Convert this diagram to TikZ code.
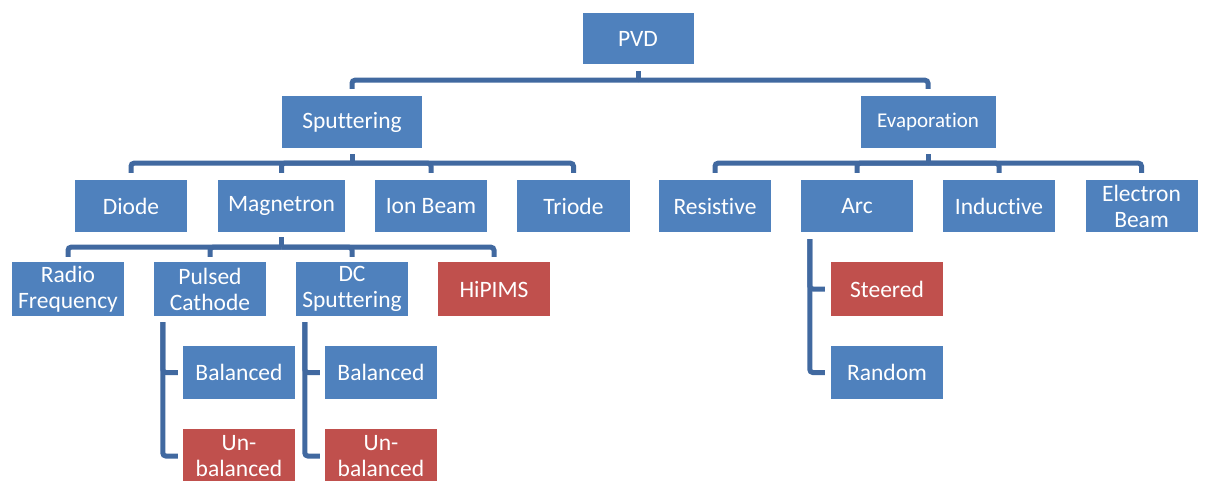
\documentclass[tikz,border=0pt]{standalone}
\usepackage{fontspec}
\setmainfont[Ligatures=NoCommon]{Carlito}
\definecolor{boxblue}{HTML}{4F81BD}
\definecolor{boxred}{HTML}{C0504D}
\definecolor{linkblue}{HTML}{4169A0}
\begin{document}
\begin{tikzpicture}[x=1pt,y=-1pt,
  box/.style={fill=boxblue,text=white,inner sep=0pt,align=center,
    minimum width=112pt,minimum height=53pt,
    font=\fontsize{23.5}{26}\selectfont},
  hot/.style={box,fill=boxred},
  link/.style={draw=linkblue,line width=5pt,rounded corners=3pt}]
\useasboundingbox (0,0) rectangle (1205,480);
\begin{scope}
\clip (0,0) rectangle (1205,480);
% root and first level
\node[box,minimum width=111pt,minimum height=51pt] (pvd) at (638,38.5) {PVD};
\node[box,minimum width=140pt,minimum height=52pt] (spt) at (352,122) {Sputtering};
\node[box,minimum width=135pt,minimum height=52pt,font=\fontsize{21}{24}\selectfont] (evp) at (928,122) {Evaporation};
% sputtering methods
\node[box,minimum height=52pt] (dio) at (131,206) {Diode};
\node[box,minimum width=127pt,minimum height=52pt] (mag) at (281.5,206) {Magnetron};
\node[box,minimum height=52pt] (ion) at (431,206) {Ion Beam};
\node[box,minimum width=113pt,minimum height=52pt] (tri) at (573.5,206) {Triode};
% evaporation methods
\node[box,minimum height=52pt] (res) at (715,206) {Resistive};
\node[box,minimum height=52pt] (arc) at (857,206) {Arc};
\node[box,minimum height=52pt] (ind) at (999,206) {Inductive};
\node[box,minimum height=52pt] (ebm) at (1141.5,206) {Electron\\Beam};
% magnetron variants
\node[box,minimum height=54pt] (rf) at (68,289) {Radio\\Frequency};
\node[box,minimum height=54pt] (pc) at (210,289) {Pulsed\\Cathode};
\node[box,minimum height=54pt] (dc) at (352,289) {DC\\Sputtering};
\node[hot,minimum height=54pt] (hip) at (494,289) {HiPIMS};
% field configurations
\node[box] (pcb) at (239,372.5) {Balanced};
\node[hot,minimum height=54pt] (pcu) at (239,456) {Un-\\balanced};
\node[box] (dcb) at (381,372.5) {Balanced};
\node[hot,minimum height=54pt] (dcu) at (381,456) {Un-\\balanced};
% arc variants
\node[hot,minimum height=54pt] (ste) at (887,289) {Steered};
\node[box] (rnd) at (887,372.5) {Random};

% PVD -> first level
\draw[link] ([yshift=-7pt]pvd.south) -- ++(0,9);
\draw[link] ([yshift=-16pt]pvd.south) -| ([yshift=7pt]spt.north);
\draw[link] ([yshift=-16pt]pvd.south) -| ([yshift=7pt]evp.north);
% Sputtering -> methods
\draw[link] ([yshift=-6pt]spt.south) -- ++(0,9);
\foreach \c in {dio,mag,ion,tri}
  \draw[link] ([yshift=-15pt]spt.south) -| ([yshift=7pt]\c.north);
% Evaporation -> methods
\draw[link] ([yshift=-6pt]evp.south) -- ++(0,9);
\foreach \c in {res,arc,ind,ebm}
  \draw[link] ([yshift=-15pt]evp.south) -| ([yshift=7pt]\c.north);
% Magnetron -> variants
\draw[link] ([yshift=-5pt]mag.south) -- ++(0,10);
\foreach \c in {rf,pc,dc,hip}
  \draw[link] ([yshift=-15pt]mag.south) -| ([yshift=5pt]\c.north);
% Pulsed cathode and DC sputtering -> balanced / unbalanced
\draw[link] ([xshift=9pt,yshift=-6pt]pc.south west) |- ([xshift=-5pt]pcb.west);
\draw[link] ([xshift=9pt,yshift=-6pt]pc.south west) |- ([xshift=-5pt]pcu.west);
\draw[link] ([xshift=9pt,yshift=-6pt]dc.south west) |- ([xshift=-5pt]dcb.west);
\draw[link] ([xshift=9pt,yshift=-6pt]dc.south west) |- ([xshift=-5pt]dcu.west);
% Arc -> steered / random
\draw[link] ([xshift=9pt,yshift=-7pt]arc.south west) |- ([xshift=-6pt]ste.west);
\draw[link] ([xshift=9pt,yshift=-7pt]arc.south west) |- ([xshift=-6pt]rnd.west);
\end{scope}
\end{tikzpicture}
\end{document}
